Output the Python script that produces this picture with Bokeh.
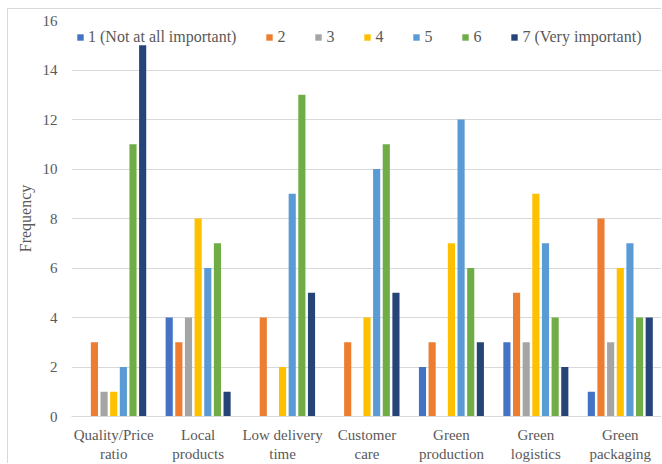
from bokeh.plotting import figure
from bokeh.models import (ColumnDataSource, Legend, LegendItem, FixedTicker, CategoricalAxis,
                          CustomJSTickFormatter)
from bokeh.transform import dodge
from bokeh.embed import file_html
from bokeh.resources import INLINE

label_line1 = ["Quality/Price", "Local", "Low delivery", "Customer", "Green", "Green", "Green"]
label_line2 = ["ratio", "products", "time", "care", "production", "logistics", "packaging"]
categories = [f"{a} {b}" for a, b in zip(label_line1, label_line2)]
series_names = ["1 (Not at all important)", "2", "3", "4", "5", "6", "7 (Very important)"]
s1 = [0, 4, 0, 0, 2, 3, 1]
s2 = [3, 3, 4, 3, 3, 5, 8]
s3 = [1, 4, 0, 0, 0, 3, 3]
s4 = [1, 8, 2, 4, 7, 9, 6]
s5 = [2, 6, 9, 10, 12, 7, 7]
s6 = [11, 7, 13, 11, 6, 4, 4]
s7 = [15, 1, 5, 5, 3, 2, 4]
y_ticks = [0, 2, 4, 6, 8, 10, 12, 14, 16]

colors = ["#4472C4", "#ED7D31", "#A5A5A5", "#FFC000", "#5B9BD5", "#70AD47", "#264478"]
series = [s1, s2, s3, s4, s5, s6, s7]

data = {"cat": categories}
for i, s in enumerate(series):
    data[f"s{i+1}"] = s
source = ColumnDataSource(data)

FONT = "Liberation Serif"
TXT = "#595959"
GRID = "#d9d9d9"

p = figure(x_range=categories, y_range=(0, 16), width=654, height=455,
           output_backend="svg", toolbar_location=None,
           min_border_left=63, min_border_right=0, min_border_top=11, min_border_bottom=0,
           styles={"margin-left": "7px", "margin-top": "8px",
                   "border-left": "1px solid #d9d9d9", "border-top": "1px solid #d9d9d9"})
p.outline_line_color = None

step = 0.8 / 7
items = []
for i, (name, col) in enumerate(zip(series_names, colors)):
    r = p.vbar(x=dodge("cat", (i - 3) * step, range=p.x_range), top=f"s{i+1}",
               width=step * 0.74, source=source, fill_color=col, line_color=None)
    items.append(LegendItem(label=name, renderers=[r]))

legend = Legend(items=items, orientation="horizontal", location="top_left",
                glyph_width=8, glyph_height=8, label_standoff=4, spacing=29, label_width=1,
                label_text_font=FONT, label_text_font_size="16px", label_text_color=TXT,
                border_line_color=None, background_fill_alpha=0, margin=5, padding=0,
                label_height=24)
p.add_layout(legend)

p.yaxis.ticker = FixedTicker(ticks=y_ticks)
p.yaxis.axis_line_color = None
p.yaxis.major_tick_line_color = None
p.yaxis.major_tick_out = 0
p.yaxis.minor_tick_line_color = None
p.yaxis.major_label_text_font = FONT
p.yaxis.major_label_text_font_size = "15px"
p.yaxis.major_label_text_color = TXT
p.yaxis.major_label_standoff = 14
p.yaxis.axis_label = "Frequency"
p.yaxis.axis_label_text_font = FONT
p.yaxis.axis_label_text_font_size = "16px"
p.yaxis.axis_label_text_font_style = "normal"
p.yaxis.axis_label_text_color = TXT
p.yaxis.axis_label_standoff = 6


def line_formatter(lines):
    return CustomJSTickFormatter(args=dict(cats=categories, lines=lines),
                                 code="const i = cats.indexOf(tick); return i >= 0 ? lines[i] : tick;")


xa = p.xaxis[0]
xa.formatter = line_formatter(label_line1)
xa.axis_line_color = GRID
xa.major_tick_line_color = None
xa.major_tick_out = 0
xa.minor_tick_line_color = None
xa.major_label_text_font = FONT
xa.major_label_text_font_size = "15px"
xa.major_label_text_color = TXT
xa.major_label_standoff = 10

xa2 = CategoricalAxis(formatter=line_formatter(label_line2))
xa2.axis_line_color = None
xa2.major_tick_line_color = None
xa2.major_tick_out = 0
xa2.minor_tick_line_color = None
xa2.major_label_text_font = FONT
xa2.major_label_text_font_size = "15px"
xa2.major_label_text_color = TXT
xa2.major_label_standoff = 0
p.add_layout(xa2, "below")

p.xgrid.grid_line_color = None
p.ygrid.grid_line_color = GRID

open("out.html", "w").write(file_html(p, INLINE))
